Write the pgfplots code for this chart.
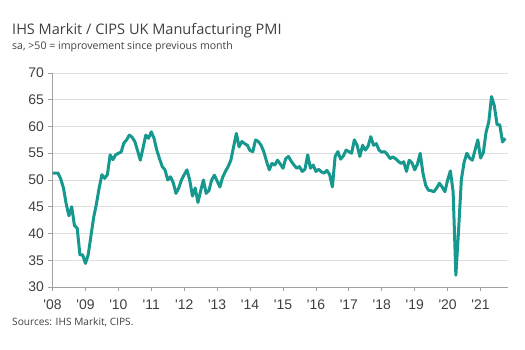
\documentclass[border=0pt]{standalone}
\usepackage{pgfplots}
\pgfplotsset{compat=1.18}
\usepackage{pgfplotstable}
\usepackage{fontspec}
\setmainfont{Open Sans}
\newfontfamily\tickfont{Liberation Sans}
\definecolor{pmiteal}{RGB}{22,152,143}
\definecolor{txtgray}{RGB}{64,64,64}
\definecolor{axgray}{RGB}{160,160,160}
\definecolor{gridgray}{RGB}{222,222,222}

\pgfplotstableread{
v
51.3
51.3
51.3
50.2
48.5
45.5
43.3
45.0
41.5
41.0
36.0
36.0
34.4
36.0
39.5
43.0
45.5
48.5
51.0
50.3
51.0
54.7
53.8
54.7
55.0
55.2
56.9
57.5
58.4
58.0
57.2
55.5
53.7
56.0
58.4
57.8
59.0
57.8
55.6
54.0
52.5
51.9
50.0
50.6
49.5
47.5
48.5
50.0
51.0
51.9
50.0
47.0
48.5
45.8
48.0
50.0
47.5
48.0
50.0
50.9
49.8
48.7
50.5
51.6
52.5
53.7
56.2
58.7
56.2
57.2
56.8
56.5
55.5
55.3
57.5
57.2
56.5
55.3
53.5
51.9
53.1
52.8
53.7
53.0
52.2
54.0
54.4
53.5
52.8
52.2
52.5
51.6
52.0
54.7
52.2
52.8
51.6
52.0
51.5
51.3
51.8
51.0
48.7
54.4
55.3
53.9
54.5
55.6
55.3
55.0
57.5
56.5
54.4
56.5
55.6
56.3
58.1
56.5
56.8
55.6
55.2
55.3
54.8
54.0
54.3
54.0
53.5
53.1
53.4
51.6
53.7
53.2
51.9
53.0
55.0
51.3
49.0
48.1
48.0
47.8
48.5
49.4
48.7
47.8
50.0
51.7
47.8
32.2
40.7
50.1
53.3
55.0
54.1
53.7
55.6
57.5
54.1
55.1
58.9
60.9
65.6
63.9
60.4
60.3
57.1
57.8
}\pmidata

\begin{document}
\begin{tikzpicture}
\useasboundingbox (0,0) rectangle (525bp,-350bp);
\node[anchor=base west, inner sep=0, text=txtgray, font=\fontsize{14.6}{16}\selectfont] at (12bp,-34bp) {IHS Markit / CIPS UK Manufacturing PMI};
\node[anchor=base west, inner sep=0, text=txtgray, font=\fontsize{10.6}{12}\selectfont] at (12bp,-49bp) {sa, >50 = improvement since previous month};
\node[anchor=base west, inner sep=0, text=txtgray, font=\fontsize{10.2}{12}\selectfont] at (12bp,-325bp) {Sources: IHS Markit, CIPS.};
\begin{axis}[
  at={(52.5bp,-287bp)}, anchor=south west,
  width=455.5bp, height=214bp, scale only axis,
  xmin=0, xmax=166, ymin=30, ymax=70,
  ytick={30,35,...,70},
  xtick={0,12,...,156},
  xticklabels={'08,'09,'10,'11,'12,'13,'14,'15,'16,'17,'18,'19,'20,'21},
  axis x line*=bottom, axis y line*=left,
  axis line style={draw=axgray, line width=0.8bp},
  tick style={draw=axgray, line width=0.8bp},
  tick align=outside, major tick length=4bp,
  ymajorgrids, grid style={draw=gridgray, line width=0.8bp},
  tick label style={font=\tickfont\fontsize{14}{16}\selectfont, text=txtgray},
  xticklabel style={yshift=-5bp},
  yticklabel style={xshift=-1bp},
  /pgf/number format/assume math mode=true,
  clip=false,
]
\addplot[pmiteal, line width=3bp, line join=round, no marks] table[x expr=\coordindex, y=v] {\pmidata};
\end{axis}
\end{tikzpicture}
\end{document}
